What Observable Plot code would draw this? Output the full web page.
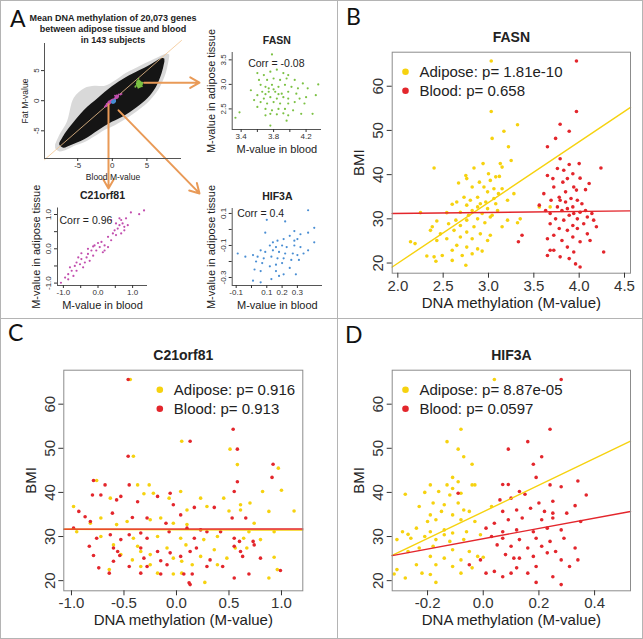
<!DOCTYPE html>
<html><head><meta charset="utf-8">
<script src="https://cdn.jsdelivr.net/npm/d3@7"></script>
<script src="https://cdn.jsdelivr.net/npm/@observablehq/plot@0.6"></script>
<style>
body{margin:0;background:#fff;}
#fig{position:relative;width:643px;height:639px;overflow:hidden;background:#fff;font-family:"Liberation Sans",Arial,sans-serif;}
#fig svg{position:absolute;left:0;top:0;}
.ln{position:absolute;background:#b4b4b4;}
.outer{position:absolute;left:0;top:0;width:641px;height:637px;border:1px solid #b4b4b4;}
.plab{position:absolute;font-family:Lato,"Liberation Sans",sans-serif;font-size:23px;line-height:23px;color:#111;}
</style></head>
<body><div id="fig">
<div class="outer"></div>
<div class="ln" style="left:337px;top:0;width:1px;height:639px"></div>
<div class="ln" style="left:0;top:318px;width:643px;height:1px"></div>
<div class="plab" style="left:10px;top:7px">A</div>
<div class="plab" style="left:346px;top:5px">B</div>
<div class="plab" style="left:8px;top:321px">C</div>
<div class="plab" style="left:345px;top:323px">D</div>
</div>
<script>
// ---------------- DATA ----------------
// Panel B: FASN, BMI vs DNA methylation (M-value)
const fasnAdipose = [[3.03,65.7],[3.03,54.3],[3.04,48.2],[3.32,51.3],[3.17,49.8],[3.22,46.3],[3.25,43.2],[2.40,41.5],[2.84,41.5],[2.94,42.5],[3.13,42.5],[3.15,41.7],[2.75,39.8],[2.76,39.1],[3.00,40.2],[3.02,38.7],[3.08,39.5],[3.12,39.6],[2.90,38.3],[2.67,38.1],[2.82,37.2],[2.95,37.2],[3.06,36.8],[3.15,36.8],[2.99,36.1],[3.11,35.7],[3.28,35.7],[2.73,34.9],[2.88,34.9],[3.06,34.6],[2.80,34.2],[2.97,33.8],[2.65,33.8],[2.91,33.4],[3.08,33.4],[3.21,34.2],[2.60,33.3],[2.76,33.1],[2.88,32.7],[2.99,32.3],[3.10,31.9],[2.82,31.9],[2.69,31.5],[2.54,31.4],[2.25,31.4],[2.93,31.2],[2.78,30.8],[3.04,30.8],[2.88,30.0],[2.76,29.7],[2.64,29.7],[3.21,29.7],[3.35,30.0],[2.43,29.5],[2.96,29.1],[2.56,28.9],[2.69,28.5],[2.84,28.2],[3.15,28.2],[2.38,28.2],[3.32,29.1],[2.62,27.4],[2.76,27.0],[2.91,26.6],[3.02,26.3],[2.47,26.6],[2.36,27.4],[2.69,25.9],[2.82,25.5],[2.99,25.1],[2.54,25.5],[2.14,24.8],[2.19,24.4],[2.43,25.1],[2.65,24.0],[2.76,23.6],[2.88,23.2],[2.60,22.9],[2.93,22.7],[2.32,21.6],[2.40,21.4],[2.49,21.7],[2.71,21.7],[2.82,22.1],[2.42,20.4],[2.75,19.5],[2.60,20.6],[3.02,30.4],[3.56,32.7],[3.68,32.7]];
const fasnBlood = [[3.97,65.7],[3.97,54.3],[3.79,51.4],[3.89,49.8],[3.65,46.3],[3.74,48.2],[4.24,41.5],[3.79,43.6],[3.89,42.3],[4.00,42.5],[3.76,41.4],[3.83,41.0],[3.65,39.8],[3.71,39.1],[3.93,40.2],[4.01,39.2],[3.82,38.3],[3.87,39.1],[4.11,38.0],[3.72,37.2],[3.94,37.2],[3.61,35.7],[3.85,36.1],[3.97,36.5],[4.07,36.6],[3.78,34.9],[3.91,34.6],[3.98,34.2],[3.69,34.2],[3.85,33.8],[4.03,33.4],[3.56,33.1],[3.76,32.7],[3.93,32.7],[3.81,31.9],[4.01,31.5],[3.68,31.2],[3.89,30.8],[4.14,31.2],[3.98,30.0],[3.74,30.0],[3.83,29.7],[4.16,29.7],[3.68,28.9],[3.93,28.5],[4.05,28.9],[3.78,27.8],[3.87,27.4],[3.98,27.8],[4.09,26.6],[3.72,26.3],[3.93,25.9],[3.65,25.5],[3.81,25.1],[4.01,24.8],[4.12,25.1],[3.37,26.3],[3.33,24.8],[3.87,23.6],[3.72,22.9],[3.94,22.5],[4.27,22.5],[3.65,21.7],[3.79,21.4],[3.89,21.0],[3.96,19.8],[4.01,19.1],[3.68,22.9],[4.19,28.2],[4.09,30.4],[3.63,31.9],[3.87,32.3],[3.94,31.2],[3.79,34.2],[4.07,31.9]];
// Panel C: C21orf81
const c21Adipose = [[-0.44,65.6],[-0.41,48.2],[0.05,51.6],[0.51,49.8],[0.58,46.3],[0.97,45.5],[1.00,40.5],[1.12,35.8],[-0.98,36.8],[-0.76,42.7],[-0.63,38.7],[-0.37,41.7],[-0.31,39.7],[-0.26,41.7],[-0.22,39.8],[-0.15,34.2],[-0.07,38.7],[0.04,40.2],[0.10,36.0],[0.23,38.7],[0.29,36.8],[0.50,35.8],[0.61,36.0],[0.70,37.6],[0.82,40.2],[0.88,35.7],[-0.72,34.2],[-0.47,33.4],[-0.57,32.7],[-0.25,33.8],[-0.03,33.0],[0.10,32.7],[0.74,33.0],[0.69,31.1],[0.93,31.1],[-0.95,31.1],[-0.72,30.0],[-0.41,29.6],[-0.18,30.0],[0.04,29.6],[0.26,29.3],[0.39,30.0],[0.64,29.6],[0.80,29.3],[-0.60,28.1],[-0.37,27.8],[-0.09,27.4],[0.09,28.1],[0.36,27.0],[0.56,27.4],[0.67,27.4],[-0.53,25.9],[-0.42,24.7],[-0.34,26.6],[-0.25,25.9],[-0.03,25.1],[0.05,24.4],[0.23,25.5],[0.48,25.1],[0.93,25.3],[-0.25,23.6],[-0.18,21.7],[-0.03,21.5],[0.05,21.7],[0.15,23.6],[0.39,23.6],[0.96,22.5],[-0.64,22.5],[0.88,20.6],[0.27,19.6],[-0.34,23.2],[-0.82,33.0],[0.45,38.7],[0.61,37.2]];
const c21Blood = [[-0.46,65.6],[-0.46,48.2],[0.13,51.6],[0.54,54.3],[0.58,49.8],[0.92,46.4],[0.91,43.4],[-0.79,42.7],[-0.80,39.4],[-0.72,39.4],[-0.68,41.7],[-0.53,39.1],[-0.45,41.7],[-0.37,37.9],[-0.18,39.1],[-0.06,39.8],[-0.03,37.2],[0.04,34.9],[0.17,36.6],[0.36,36.6],[0.53,34.2],[0.55,40.2],[0.58,42.4],[0.66,34.2],[-0.93,35.7],[-0.87,34.5],[-0.61,35.3],[-0.57,38.3],[-0.42,34.3],[-0.28,34.2],[-0.10,33.0],[0.10,31.9],[0.23,31.5],[-0.98,31.9],[-0.83,27.8],[-0.76,29.6],[-0.63,30.4],[-0.53,29.3],[-0.45,30.4],[-0.34,30.8],[-0.28,29.6],[-0.07,31.1],[0.17,29.6],[0.29,31.1],[0.42,31.1],[0.55,29.6],[0.60,28.9],[0.73,28.9],[-0.60,27.4],[-0.56,26.6],[-0.34,27.4],[-0.18,26.6],[-0.06,26.3],[0.13,26.6],[0.19,27.4],[0.55,27.8],[0.61,26.6],[0.74,28.1],[-0.79,25.7],[-0.54,25.7],[-0.31,25.1],[-0.15,24.5],[0.04,25.5],[0.32,24.7],[0.63,25.5],[0.80,25.1],[-0.60,24.4],[-0.45,23.2],[-0.28,23.2],[-0.09,23.6],[-0.74,22.9],[-0.64,21.7],[-0.34,21.7],[-0.15,21.5],[0.07,21.5],[0.15,21.5],[0.44,23.2],[0.55,20.6],[0.69,21.5],[0.99,22.3],[0.12,19.5],[0.13,19.1],[0.29,23.2],[-0.82,33.4]];
// Panel D: HIF3A
const hifAdipose = [[0.04,65.6],[-0.08,54.3],[-0.13,51.5],[-0.09,49.8],[-0.07,48.1],[-0.04,46.4],[-0.11,43.4],[-0.09,42.4],[-0.13,41.7],[-0.19,41.7],[-0.04,41.7],[-0.03,41.7],[-0.28,39.6],[-0.21,40.0],[-0.16,40.2],[-0.12,39.4],[-0.08,39.8],[-0.23,36.8],[-0.18,37.6],[-0.14,37.2],[-0.09,37.6],[-0.07,36.0],[0.03,36.8],[-0.19,34.9],[-0.15,35.7],[-0.11,34.9],[-0.05,35.7],[-0.20,33.4],[-0.17,33.8],[-0.08,33.8],[-0.03,33.4],[-0.24,31.9],[-0.19,31.1],[-0.14,31.5],[-0.11,30.8],[-0.06,31.1],[-0.29,31.1],[-0.26,29.6],[-0.21,30.0],[-0.17,29.3],[-0.12,28.9],[-0.07,29.3],[-0.31,29.3],[-0.01,30.4],[-0.23,27.4],[-0.18,27.8],[-0.11,27.0],[-0.05,26.6],[-0.27,26.6],[-0.19,25.5],[-0.14,25.1],[-0.08,24.7],[-0.02,25.5],[-0.24,23.6],[-0.17,23.6],[-0.11,23.2],[-0.04,22.9],[-0.31,22.5],[-0.22,21.7],[-0.19,21.4],[-0.08,21.7],[-0.28,20.6],[-0.17,19.6],[-0.32,21.5],[0.00,25.3],[-0.11,40.9],[-0.27,30.5],[-0.14,30.4]];
const hifBlood = [[0.28,65.6],[0.24,54.3],[0.16,51.5],[0.09,49.8],[0.21,48.1],[0.18,46.4],[0.19,43.4],[0.07,41.8],[0.09,41.8],[0.13,40.2],[0.15,39.6],[0.24,41.7],[0.28,41.3],[0.34,42.6],[0.37,39.4],[-0.09,39.8],[0.06,38.3],[0.10,38.7],[0.20,37.6],[0.25,38.0],[0.33,37.0],[0.07,35.7],[0.12,36.0],[0.17,36.4],[0.22,35.7],[0.25,35.3],[0.30,35.3],[0.04,33.0],[0.09,33.8],[0.14,34.2],[0.21,33.8],[0.25,34.2],[0.35,33.4],[0.01,31.9],[0.07,31.1],[0.12,31.5],[0.18,31.1],[0.23,31.9],[0.28,31.5],[0.03,30.0],[0.07,29.6],[0.13,29.3],[0.19,29.6],[0.24,28.9],[0.29,29.6],[0.05,28.1],[0.10,27.8],[0.16,27.4],[0.21,27.8],[0.26,26.6],[0.33,27.4],[0.08,25.9],[0.13,25.1],[0.18,25.5],[0.23,26.3],[0.28,24.7],[0.34,24.7],[-0.01,24.7],[-0.05,23.6],[0.01,21.7],[0.07,20.9],[0.12,22.9],[0.16,21.7],[0.19,23.2],[0.25,20.9],[0.31,23.2],[0.19,19.6],[0.28,19.1],[0.10,21.7],[0.04,22.1],[0.11,25.1]];
// Regression fits [intercept, slope]
const fitFasn = {adipose: [-7.53, 13.74], blood: [30.76, 0.228]};
const fitC21 = {adipose: [31.55, -0.08], blood: [31.7, 0.02]};
const fitHif = {adipose: [35.6, 30.26], blood: [29.5, 11.68]};
const pAdipose = ["1.81e-10", "0.916", "8.87e-05"];
const pBlood = ["0.658", "0.913", "0.0597"];

// Panel A small plots: [M-value in blood, M-value in adipose tissue]
const smallFasn = [[3.78,3.61],[3.60,3.23],[3.68,3.19],[3.76,3.26],[3.84,3.30],[3.92,3.23],[3.98,3.19],[3.62,3.09],[3.72,3.09],[3.80,3.12],[3.88,3.09],[3.96,3.12],[4.06,3.09],[4.16,3.02],[3.64,2.99],[3.70,2.95],[3.78,2.99],[3.86,2.95],[3.94,2.99],[4.02,2.95],[4.10,2.92],[4.22,2.92],[3.66,2.85],[3.74,2.85],[3.82,2.85],[3.90,2.81],[3.98,2.85],[4.08,2.81],[3.60,2.78],[3.68,2.71],[3.76,2.74],[3.84,2.71],[3.92,2.74],[3.98,2.71],[4.12,2.71],[4.20,2.74],[3.52,2.88],[3.56,2.68],[3.64,2.64],[3.72,2.61],[3.80,2.64],[3.88,2.61],[3.98,2.61],[4.06,2.64],[4.18,2.61],[3.60,2.54],[3.70,2.50],[3.78,2.47],[3.86,2.50],[3.94,2.50],[4.04,2.47],[3.76,2.40],[3.84,2.39],[3.92,2.41],[3.98,2.37],[4.14,2.40],[4.28,2.40],[3.38,2.43],[3.33,2.32],[3.70,2.37],[3.96,2.26],[3.76,2.16],[4.35,3.00],[4.32,2.78],[3.74,2.92],[3.86,2.80],[3.80,2.90],[3.70,2.80]];
const smallC21 = [[1.33,1.12],[1.19,1.01],[0.95,1.06],[0.81,0.89],[0.62,0.89],[0.52,0.74],[0.71,0.74],[0.86,0.69],[0.57,0.59],[0.76,0.54],[0.48,0.54],[0.38,0.84],[0.67,0.45],[0.52,0.40],[0.29,0.35],[0.10,0.20],[0.19,0.10],[0.05,0.05],[-0.10,0.10],[0.29,0.05],[-0.05,-0.05],[-0.19,-0.05],[-0.29,0.00],[0.14,-0.10],[-0.14,-0.20],[-0.33,-0.25],[-0.48,-0.30],[-0.57,-0.25],[-0.38,-0.40],[-0.52,-0.45],[-0.67,-0.50],[-0.43,-0.54],[-0.76,-0.64],[-0.62,-0.64],[-0.86,-0.74],[-0.71,-0.79],[-0.95,-0.84],[-1.07,-0.99],[-0.24,-0.35],[0.38,0.25],[0.00,0.17],[0.62,0.69],[-0.62,-0.40],[-0.81,-0.54],[0.19,-0.05],[-0.29,-0.15],[-0.48,-0.13],[-0.86,-0.89],[-0.14,0.07],[0.43,0.45],[0.67,0.84],[0.76,0.64]];
const smallHif = [[0.37,0.12],[0.22,0.05],[0.09,-0.02],[0.28,-0.01],[0.32,-0.03],[0.37,-0.02],[0.41,0.01],[0.25,-0.04],[0.21,-0.06],[0.28,-0.07],[0.17,-0.07],[0.14,-0.08],[0.30,-0.06],[0.41,-0.08],[0.12,-0.10],[0.16,-0.11],[0.20,-0.10],[0.23,-0.11],[0.28,-0.10],[0.32,-0.11],[0.37,-0.13],[0.06,-0.13],[0.09,-0.14],[0.14,-0.13],[0.18,-0.14],[0.22,-0.15],[0.27,-0.15],[0.30,-0.16],[0.34,-0.15],[-0.09,-0.15],[-0.04,-0.17],[0.01,-0.16],[0.04,-0.17],[0.08,-0.18],[0.13,-0.17],[0.17,-0.18],[0.21,-0.18],[0.26,-0.19],[0.31,-0.19],[0.03,-0.20],[0.07,-0.21],[0.12,-0.23],[0.16,-0.22],[0.20,-0.21],[0.25,-0.24],[0.02,-0.25],[0.06,-0.26],[0.16,-0.26],[0.21,-0.28],[0.29,-0.28],[0.13,-0.31],[0.18,-0.29],[0.06,-0.33],[0.01,-0.32],[0.10,0.06]];
const corrText = ["Corr = -0.08", "Corr = 0.96", "Corr = 0.4"];

// Panel A genome-wide cloud outline (blood M-value, fat M-value bounds)
const coreX    = [-7.6, -7.0, -6.0, -4.0, -2.0, 0.0, 2.0, 4.0, 5.5, 6.5, 7.2, 7.6];
const coreLow  = [-7.4, -7.9, -7.5, -6.5, -5.0, -3.6, -2.4, -0.8, 0.8, 2.5, 4.5, 6.4];
const coreHigh = [-7.1, -5.9, -4.3, -1.6, 0.4, 2.3, 3.8, 5.0, 5.9, 6.6, 7.0, 6.9];
const haloX    = [-8.2, -7.6, -6.5, -5.5, -4.0, -2.5, -1.0, 0.5, 2.0, 4.0, 5.5, 6.8, 7.8, 8.3];
const haloLow  = [-8.0, -8.5, -8.2, -7.6, -7.0, -6.0, -4.9, -4.1, -3.1, -1.5, 0.0, 1.9, 4.5, 7.2];
const haloHigh = [-7.4, -5.8, -3.6, 0.4, 2.0, 2.4, 2.4, 3.3, 4.5, 5.7, 6.5, 7.2, 7.7, 7.6];
// arrows from gene clusters to the zoomed plots (in genome-wide plot units)
const arrowLinks = [
  {gene: "FASN", x1: 4.6, y1: 3.0, x2: 12.6, y2: 3.0},
  {gene: "C21orf81", x1: -0.55, y1: -0.6, x2: -0.55, y2: -14.6},
  {gene: "HIF3A", x1: 0.9, y1: -1.6, x2: 12.6, y2: -15.4}
];

// Tick values
const bXTicks = [2.0, 2.5, 3.0, 3.5, 4.0, 4.5];
const cXTicks = [-1.0, -0.5, 0.0, 0.5, 1.0];
const dXTicks = [-0.2, 0.0, 0.2, 0.4];
const bmiTicks = [20, 30, 40, 50, 60];
const aTicks = [-5, 0, 5];
const fasnXTicks = [3.4, 3.6, 3.8, 4.0, 4.2], fasnXLabels = ["3.4", "", "3.8", "", "4.2"];
const fasnYTicks = [2.5, 3.0, 3.5], fasnYLabels = ["2.5", "3.0", "3.5"];
const c21Ticks = [-1.0, -0.5, 0.0, 0.5, 1.0], c21Labels = ["-1.0", "", "0.0", "", "1.0"];
const hifXTicks = [-0.1, 0.0, 0.1, 0.2, 0.3], hifXLabels = ["-0.1", "", "0.1", "0.2", "0.3"];
const hifYTicks = [-0.3, -0.2, -0.1, 0.0, 0.1], hifYLabels = ["-0.3", "", "-0.1", "", "0.1"];

// ---------------- DRAWING ----------------
const W = 643, H = 639;
const FONT = "'Liberation Sans', Arial, sans-serif";
const YEL = "#F6D20F", RED = "#E3262C";
const GREEN = "#7CC144", MAG = "#C24FAE", BLUE = "#4A8ED3", ORANGE = "#E99A57", DIAG = "#F3C48E";
const TXT = "#222";
const fig = document.getElementById("fig");
const lab = (ticks, labels) => { const m = new Map(ticks.map((t, i) => [t, labels[i]])); return d => m.get(d); };
const f1 = d => d.toFixed(1);
const C = {lineAnchor: "middle", textAnchor: "middle"};
const S = {lineAnchor: "middle", textAnchor: "start"};

function base(fr, xd, yd, marks) {
  return Plot.plot({
    width: W, height: H,
    marginLeft: fr[0], marginRight: W - fr[1], marginTop: fr[2], marginBottom: H - fr[3],
    x: {domain: xd, axis: null}, y: {domain: yd, axis: null},
    style: {background: "transparent", overflow: "visible", fontFamily: FONT, color: TXT},
    marks
  });
}

function bigPanel(fr, xd, xTicks, title, adipose, blood, fit, i, legendDx) {
  const yd = [17.7, 67.7];
  const fl = f => xd.map(x => ({x, y: f[0] + f[1] * x}));
  return base(fr, xd, yd, [
    Plot.dot(adipose, {x: d => d[0], y: d => d[1], r: 1.8, fill: YEL}),
    Plot.dot(blood, {x: d => d[0], y: d => d[1], r: 1.8, fill: RED}),
    Plot.line(fl(fit.adipose), {x: "x", y: "y", stroke: YEL, strokeWidth: 1.4}),
    Plot.line(fl(fit.blood), {x: "x", y: "y", stroke: RED, strokeWidth: 1.4}),
    Plot.frame({stroke: "#8c8c8c"}),
    Plot.axisX(xTicks, {tickSize: 5, tickPadding: 2, fontSize: 15, tickFormat: f1, color: "#333", label: null}),
    Plot.axisY(bmiTicks, {tickSize: 5, tickFormat: () => "", color: "#333", label: null}),
    Plot.text(bmiTicks, {y: d => d, frameAnchor: "left", dx: -14, rotate: -90, text: d => String(d), fontSize: 15, fill: "#333", ...C}),
    Plot.text([title], {frameAnchor: "top", dy: -15, text: d => d, fontWeight: "bold", fontSize: 14, fill: TXT, ...C}),
    Plot.text(["DNA methylation (M-value)"], {frameAnchor: "bottom", dy: 29.5, text: d => d, fontSize: 15, fill: TXT, ...C}),
    Plot.text(["BMI"], {frameAnchor: "left", dx: -33, rotate: -90, text: d => d, fontSize: 15, fill: TXT, ...C}),
    Plot.dot([0], {frameAnchor: "top-left", dx: legendDx, dy: 19.5, r: 3.3, fill: YEL}),
    Plot.dot([0], {frameAnchor: "top-left", dx: legendDx, dy: 38.5, r: 3.3, fill: RED}),
    Plot.text(["Adipose: p= " + pAdipose[i]], {frameAnchor: "top-left", dx: legendDx + 14, dy: 19.5, text: d => d, fontSize: 15, fill: TXT, ...S}),
    Plot.text(["Blood: p= " + pBlood[i]], {frameAnchor: "top-left", dx: legendDx + 14, dy: 38.5, text: d => d, fontSize: 15, fill: TXT, ...S})
  ]);
}

function smallPanel(fr, xd, yd, xT, xL, yT, yL, title, data, color, corr, cdx, cdy) {
  return base(fr, xd, yd, [
    Plot.dot(data, {x: d => d[0], y: d => d[1], r: 1.1, fill: color}),
    Plot.ruleX([xd[0]], {stroke: "#555"}),
    Plot.ruleY([yd[0]], {stroke: "#555"}),
    Plot.axisX(xT, {tickSize: 3, tickPadding: 1, fontSize: 8, tickFormat: lab(xT, xL), color: "#333", label: null}),
    Plot.axisY(yT, {tickSize: 3, tickFormat: () => "", color: "#333", label: null}),
    Plot.text(yT, {y: d => d, frameAnchor: "left", dx: -9, rotate: -90, text: lab(yT, yL), fontSize: 8, fill: "#333", ...C}),
    Plot.text([title], {frameAnchor: "top", dy: -12, text: d => d, fontWeight: "bold", fontSize: 10.5, fill: TXT, ...C}),
    Plot.text(["M-value in blood"], {frameAnchor: "bottom", dy: 20, text: d => d, fontSize: 11, fill: TXT, ...C}),
    Plot.text(["M-value in adipose tissue"], {frameAnchor: "left", dx: -21, rotate: -90, text: d => d, fontSize: 11, fill: TXT, ...C}),
    Plot.text([corr], {frameAnchor: "top-left", dx: cdx, dy: cdy, text: d => d, fontSize: 10.5, fill: TXT, ...S})
  ]);
}

// Panel A: genome-wide scatter
const core = coreX.map((x, i) => ({x, lo: coreLow[i], hi: coreHigh[i]}));
const halo = haloX.map((x, i) => ({x, lo: haloLow[i], hi: haloHigh[i]}));
const aXd = [-9.8, 10], aYd = [-9.6, 9.5];
const bigA = base([44, 181, 43, 158], aXd, aYd, [
  Plot.areaY(halo, {x: "x", y1: "lo", y2: "hi", fill: "#000", fillOpacity: 0.15, curve: "catmull-rom"}),
  Plot.areaY(core, {x: "x", y1: "lo", y2: "hi", fill: "#151515", curve: "catmull-rom"}),
  Plot.line(aXd.map(v => ({v})), {x: "v", y: "v", stroke: DIAG, strokeWidth: 0.8}),
  Plot.dot(smallFasn, {x: d => d[0], y: d => d[1], r: 0.9, fill: GREEN}),
  Plot.dot(smallC21, {x: d => d[0], y: d => d[1], r: 0.9, fill: MAG}),
  Plot.dot(smallHif, {x: d => d[0], y: d => d[1], r: 0.9, fill: BLUE}),
  Plot.arrow(arrowLinks, {x1: "x1", y1: "y1", x2: "x2", y2: "y2", stroke: ORANGE, strokeWidth: 2, headLength: 8}),
  Plot.ruleX([aXd[0]], {stroke: "#555"}),
  Plot.ruleY([aYd[0]], {stroke: "#555"}),
  Plot.axisX(aTicks, {tickSize: 3, tickPadding: 1, fontSize: 8, tickFormat: d => String(d), color: "#333", label: null}),
  Plot.axisY(aTicks, {tickSize: 3, tickFormat: () => "", color: "#333", label: null}),
  Plot.text(aTicks, {y: d => d, frameAnchor: "left", dx: -8, rotate: -90, text: d => String(d), fontSize: 8, fill: "#333", ...C}),
  Plot.text(["Blood M-value"], {frameAnchor: "bottom", dy: 19, text: d => d, fontSize: 8.5, fill: TXT, ...C}),
  Plot.text(["Fat M-value"], {frameAnchor: "left", dx: -19, rotate: -90, text: d => d, fontSize: 8.5, fill: TXT, ...C}),
  Plot.text(["Mean DNA methylation of 20,073 genes\nbetween adipose tissue and blood\nin 143 subjects"], {frameAnchor: "top", dy: -15, lineHeight: 1.2, text: d => d, fontWeight: "bold", fontSize: 9, fill: TXT, ...C})
]);
fig.appendChild(bigA);

fig.appendChild(smallPanel([231.7, 321, 52, 129], [3.29, 4.39], [2.08, 3.65], fasnXTicks, fasnXLabels, fasnYTicks, fasnYLabels, "FASN", smallFasn, GREEN, corrText[0], 16, 11));
fig.appendChild(smallPanel([57, 147, 207.5, 285], [-1.17, 1.43], [-1.07, 1.19], c21Ticks, c21Labels, c21Ticks, c21Labels, "C21orf81", smallC21, MAG, corrText[1], 2, 12.5));
fig.appendChild(smallPanel([231.7, 322, 208, 285], [-0.126, 0.464], [-0.35, 0.131], hifXTicks, hifXLabels, hifYTicks, hifYLabels, "HIF3A", smallHif, BLUE, corrText[2], 5, 5.5));

fig.appendChild(bigPanel([391.7, 630, 51.7, 272.7], [1.938, 4.566], bXTicks, "FASN", fasnAdipose, fasnBlood, fitFasn, 0, 13.3));
fig.appendChild(bigPanel([63.3, 302.3, 369.7, 590.3], [-1.073, 1.203], cXTicks, "C21orf81", c21Adipose, c21Blood, fitC21, 1, 96));
fig.appendChild(bigPanel([391.7, 630, 369.7, 590.3], [-0.327, 0.529], dXTicks, "HIF3A", hifAdipose, hifBlood, fitHif, 2, 13.3));
</script>
</body></html>
